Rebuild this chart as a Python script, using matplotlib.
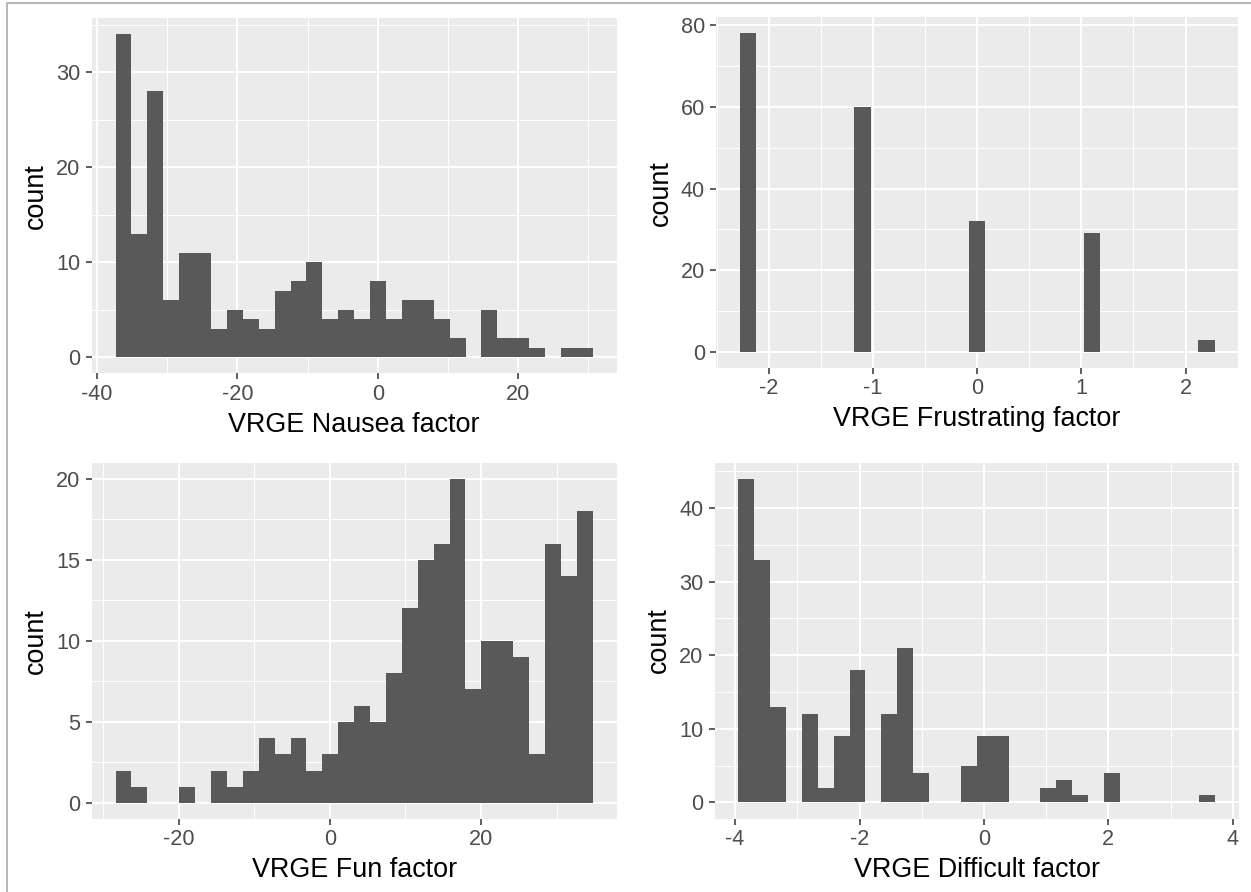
import numpy as np
import matplotlib
matplotlib.use("Agg")
import matplotlib.pyplot as plt
from matplotlib.lines import Line2D
from matplotlib.ticker import MultipleLocator

plt.rcParams["font.family"] = ["Liberation Sans", "DejaVu Sans"]
plt.rcParams["axes.unicode_minus"] = False

# histogram counts (bins=30 style, ggplot2)
nausea_counts = [34, 13, 28, 6, 11, 11, 3, 5, 4, 3, 7, 8, 10, 4, 5,
                 4, 8, 4, 6, 6, 4, 2, 0, 5, 2, 2, 1, 0, 1, 1]
nausea_range = (-37.36, 30.64)

frustrating_counts = [78, 0, 0, 0, 0, 0, 0, 60, 0, 0, 0, 0, 0, 0, 32,
                      0, 0, 0, 0, 0, 0, 29, 0, 0, 0, 0, 0, 0, 3]
frustrating_range = (-2.2786, 2.2786)

fun_counts = [2, 1, 0, 0, 1, 0, 2, 1, 2, 4, 3, 4, 2, 3, 5,
              6, 5, 8, 12, 15, 16, 20, 7, 10, 10, 9, 3, 16, 14, 18]
fun_range = (-28.36, 34.79)

difficult_counts = [44, 33, 13, 0, 12, 2, 9, 18, 0, 12, 21, 4, 0, 0, 5,
                    9, 9, 0, 0, 2, 3, 1, 0, 4, 0, 0, 0, 0, 0, 1]
difficult_range = (-3.948, 3.716)

panels = [
    ("VRGE Nausea factor", nausea_counts, nausea_range, 20, 10),
    ("VRGE Frustrating factor", frustrating_counts, frustrating_range, 1, 20),
    ("VRGE Fun factor", fun_counts, fun_range, 20, 5),
    ("VRGE Difficult factor", difficult_counts, difficult_range, 2, 10),
]

# panel boxes in pixels: left, right, top, bottom
W, H = 1251, 892
boxes = [(91.7, 616.7, 18.3, 373.3),
         (716.0, 1238.3, 17.2, 368.0),
         (91.7, 616.6, 462.5, 819.2),
         (714.5, 1239.0, 462.5, 818.6)]

fig = plt.figure(figsize=(W / 100, H / 100), dpi=100)

for (title, counts, rng, xstep, ystep), (l, r, t, b) in zip(panels, boxes):
    ax = fig.add_axes([l / W, 1 - b / H, (r - l) / W, (b - t) / H])
    counts = np.array(counts, dtype=float)
    edges = np.linspace(rng[0], rng[1], len(counts) + 1)
    mids = (edges[:-1] + edges[1:]) / 2
    ax.hist(mids, bins=edges, weights=counts, color="#595959", zorder=3)

    span = rng[1] - rng[0]
    ax.set_xlim(rng[0] - 0.05 * span, rng[1] + 0.05 * span)
    ymax = counts.max()
    ax.set_ylim(-0.05 * ymax, ymax * 1.05)

    ax.xaxis.set_major_locator(MultipleLocator(xstep))
    ax.xaxis.set_minor_locator(MultipleLocator(xstep / 2))
    ax.yaxis.set_major_locator(MultipleLocator(ystep))
    ax.yaxis.set_minor_locator(MultipleLocator(ystep / 2))
    ax.xaxis.set_major_formatter(lambda v, p: f"{v:g}")
    ax.yaxis.set_major_formatter(lambda v, p: f"{v:g}")

    ax.set_facecolor("#EBEBEB")
    ax.grid(which="major", color="white", linewidth=1.4, zorder=0)
    ax.grid(which="minor", color="white", linewidth=0.75, zorder=0)
    ax.set_axisbelow(True)
    for s in ax.spines.values():
        s.set_visible(False)

    ax.tick_params(which="major", direction="out", length=4.1, width=1.1,
                   color="#333333", labelcolor="#4D4D4D", labelsize=15.6)
    ax.tick_params(axis="x", which="major", pad=3.3)
    ax.tick_params(axis="y", which="major", pad=4)
    ax.tick_params(which="minor", length=0)

    ax.set_xlabel(title, fontsize=19.4, color="black", labelpad=5)
    ax.set_ylabel("count", fontsize=19.4, color="black", labelpad=5)

# screenshot border on top and left
fig.add_artist(Line2D([7.3 / W, 7.3 / W, 1], [0, 1 - 3.3 / H, 1 - 3.3 / H],
                      transform=fig.transFigure, color="#AAAAAA", linewidth=1.2))

fig.savefig("out.png", dpi=100)
